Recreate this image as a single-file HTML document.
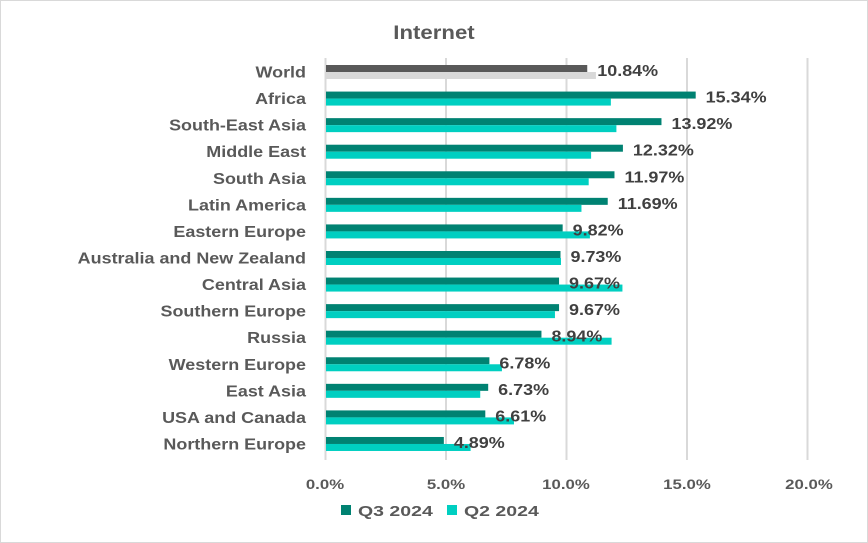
<!DOCTYPE html>
<html><head><meta charset="utf-8"><style>
body{margin:0;background:#fff}
svg{display:block;font-family:"Liberation Sans",Arial,sans-serif}
</style></head><body>
<svg id="sv" width="868" height="543" viewBox="0 0 868 543">
<rect x="0.5" y="0.5" width="867" height="542" fill="#fff" stroke="#d9d9d9"/>
<text class="st" data-f="1.25" x="434" y="39" text-anchor="middle" font-size="19" font-weight="bold" fill="#595959">Internet</text>
<g stroke="#d9d9d9" stroke-width="2">
<line x1="325.5" y1="58" x2="325.5" y2="460"/>
<line x1="446" y1="58" x2="446" y2="460"/>
<line x1="566.5" y1="58" x2="566.5" y2="460"/>
<line x1="687" y1="58" x2="687" y2="460"/>
<line x1="807.5" y1="58" x2="807.5" y2="460"/>
</g>
<g font-size="14" font-weight="bold" fill="#595959" text-anchor="middle">
<text class="st" data-f="1.2" x="325" y="489">0.0%</text><text class="st" data-f="1.2" x="446" y="489">5.0%</text><text class="st" data-f="1.2" x="566" y="489">10.0%</text><text class="st" data-f="1.2" x="687" y="489">15.0%</text><text class="st" data-f="1.2" x="809" y="489">20.0%</text>
</g>
<g id="bars"></g>
<g font-size="15" font-weight="bold">
<rect x="341" y="505" width="10" height="10" fill="#008272"/><text class="st" data-f="1.3" x="358" y="516" fill="#595959">Q3 2024</text>
<rect x="447" y="505" width="10" height="10" fill="#00cfc1"/><text class="st" data-f="1.3" x="464" y="516" fill="#595959">Q2 2024</text>
</g>
</svg>
<script>
const d=[["World",10.84,11.2],["Africa",15.34,11.82],["South-East Asia",13.92,12.05],["Middle East",12.32,11.0],["South Asia",11.97,10.9],["Latin America",11.69,10.6],["Eastern Europe",9.82,10.95],["Australia and New Zealand",9.73,9.75],["Central Asia",9.67,12.3],["Southern Europe",9.67,9.5],["Russia",8.94,11.85],["Western Europe",6.78,7.3],["East Asia",6.73,6.4],["USA and Canada",6.61,7.8],["Northern Europe",4.89,6.0]];
let s="";const x0=326,k=24.1;
d.forEach((r,i)=>{const c=72+i*26.57;
const c1=i?"#008272":"#595959",c2=i?"#00cfc1":"#d9d9d9";
s+=`<rect x="${x0}" y="${c-7}" width="${r[1]*k}" height="7" fill="${c1}"/>`;
s+=`<rect x="${x0}" y="${c}" width="${r[2]*k}" height="7" fill="${c2}"/>`;
s+=`<text class="st" data-f="1.2" x="306" y="${c+5.5}" text-anchor="end" font-size="16" font-weight="bold" fill="#595959">${r[0]}</text>`;
s+=`<text class="st" data-f="1.2" x="${x0+r[1]*k+10}" y="${c+4}" font-size="16" font-weight="bold" fill="#404040">${r[1].toFixed(2)}%</text>`;});
document.getElementById("bars").innerHTML=s;
document.querySelectorAll(".st").forEach(t=>{const w=t.getComputedTextLength()*parseFloat(t.getAttribute("data-f"))/ (parseFloat(t.getAttribute("font-size")||t.parentNode.getAttribute("font-size"))>=16?1.07:1);
t.setAttribute("textLength",w.toFixed(1));t.setAttribute("lengthAdjust","spacingAndGlyphs");});
</script>
</body></html>
